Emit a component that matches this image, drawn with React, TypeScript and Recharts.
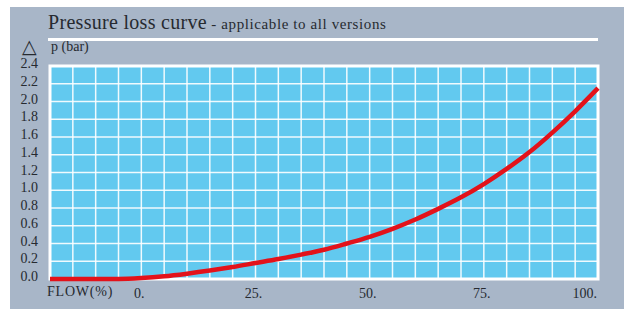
import React from 'react';
import { LineChart, Line, XAxis, YAxis, CartesianGrid, ReferenceArea } from 'recharts';

// flow (%) on x, pressure loss p (bar) on y
const flow = [-20, -15, -10, -5, 0, 5, 10, 15, 20, 25, 30, 35, 40, 45, 50, 55, 60, 65, 70, 75, 80, 85, 90, 95, 100];
const pressure = [0, 0, 0, 0, 0.01, 0.03, 0.06, 0.095, 0.135, 0.18, 0.225, 0.275, 0.33, 0.4, 0.475, 0.565, 0.67, 0.79, 0.92, 1.07, 1.24, 1.43, 1.65, 1.89, 2.15];

const xGridTicks = [-20, -15, -10, -5, 0, 5, 10, 15, 20, 25, 30, 35, 40, 45, 50, 55, 60, 65, 70, 75, 80, 85, 90, 95, 100];
const xLabelTicks = [0, 25, 50, 75, 100];
const yTicks = [0, 0.2, 0.4, 0.6, 0.8, 1.0, 1.2, 1.4, 1.6, 1.8, 2.0, 2.2, 2.4];

const data = flow.map((f, i) => ({ flow: f, p: pressure[i] }));

const FONT = '"Liberation Serif", "DejaVu Serif", serif';
const TEXT = '#262a30';

const XTick = ({ x, y, payload }: any) => {
  if (!xLabelTicks.includes(payload.value)) return null;
  const last = payload.value === 100;
  return (
    <text
      x={last ? x - 1 : x - 2}
      y={y + 11}
      textAnchor={last ? 'end' : 'middle'}
      fontFamily={FONT}
      fontSize={14}
      fill={TEXT}
    >
      {`${payload.value}.`}
    </text>
  );
};

const YTick = ({ x, y, payload }: any) => (
  <text x={x} y={y + 2} textAnchor="end" fontFamily={FONT} fontSize={14} fill={TEXT}>
    {payload.value.toFixed(1)}
  </text>
);

export default function App() {
  return (
    <div style={{ position: 'absolute', left: 0, top: 0, width: 624, height: 311, background: '#fff' }}>
      <div style={{ position: 'absolute', left: 10, top: 7, width: 614, height: 302, background: '#a8b6c8' }} />
      <div style={{ position: 'absolute', left: 48, top: 11, fontFamily: FONT, color: TEXT, whiteSpace: 'nowrap' }}>
        <span style={{ fontSize: 20, letterSpacing: 0.3 }}>Pressure loss curve</span>
        <span style={{ fontSize: 15, letterSpacing: 0.6 }}> - applicable to all versions</span>
      </div>
      <div style={{ position: 'absolute', left: 48, top: 38, width: 550, height: 3, background: '#fff' }} />
      <div style={{ position: 'absolute', left: 22, top: 35, fontFamily: FONT, fontSize: 19, color: TEXT }}>△</div>
      <div style={{ position: 'absolute', left: 51, top: 39, fontFamily: FONT, fontSize: 14, color: TEXT }}>p (bar)</div>
      <div style={{ position: 'absolute', left: 47, top: 284, fontFamily: FONT, fontSize: 14, color: TEXT, letterSpacing: 0.8 }}>FLOW(%)</div>
      <div style={{ position: 'absolute', left: 0, top: 0 }}>
        <LineChart width={624} height={311} data={data} margin={{ top: 66, right: 26, left: 0, bottom: 0 }}>
          <CartesianGrid fill="#62c9ef" stroke="#ffffff" strokeWidth={1.5} strokeOpacity={0.9} />
          <XAxis
            dataKey="flow"
            type="number"
            domain={[-20, 100]}
            ticks={xGridTicks}
            interval={0}
            height={32}
            axisLine={false}
            tickLine={false}
            tick={<XTick />}
          />
          <YAxis
            type="number"
            domain={[0, 2.4]}
            ticks={yTicks}
            interval={0}
            width={50}
            axisLine={false}
            tickLine={false}
            tickMargin={6}
            tick={<YTick />}
          />
          <ReferenceArea x1={-20} x2={100} y1={0} y2={2.4} fill="none" stroke="#ffffff" strokeWidth={3} ifOverflow="visible" />
          <Line
            type="monotone"
            dataKey="p"
            stroke="#e3121a"
            strokeWidth={4.5}
            dot={false}
            isAnimationActive={false}
          />
        </LineChart>
      </div>
    </div>
  );
}
